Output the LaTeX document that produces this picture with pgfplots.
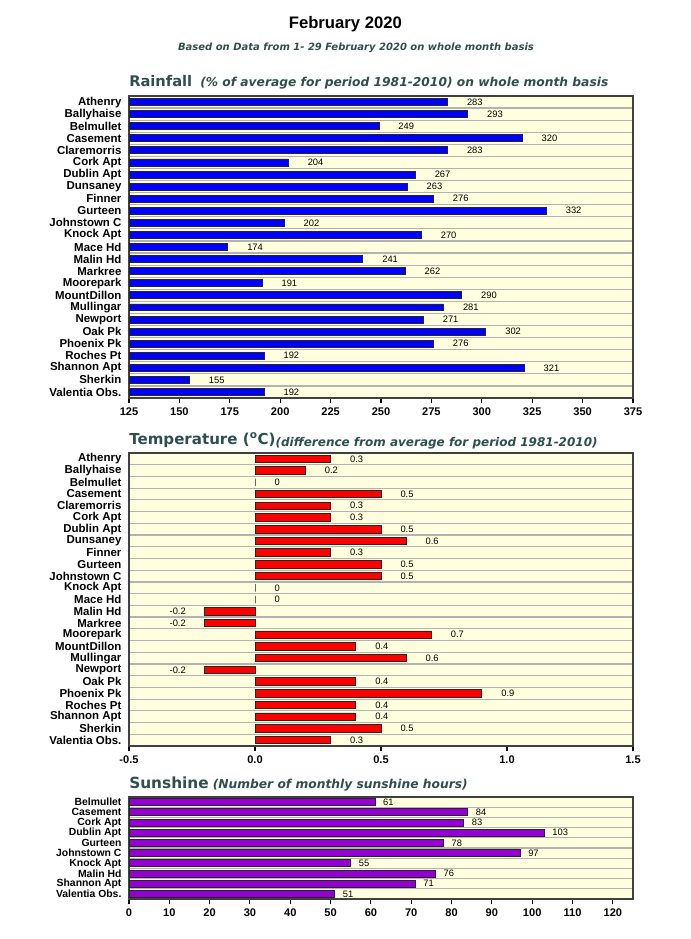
\documentclass[border=0pt]{standalone}
\usepackage{pgfplots}
\pgfplotsset{compat=1.18}
\usepackage{fontspec}
\setmainfont{Liberation Sans}
\newfontfamily\djv{DejaVu Sans}
\definecolor{bg}{HTML}{FFFFE0}
\definecolor{ttl}{HTML}{2F4F4F}
\definecolor{barblue}{HTML}{0000FF}
\definecolor{barred}{HTML}{FF0000}
\definecolor{barpurple}{HTML}{9400D3}
\pgfplotsset{
  rowchart/.style={
    xbar, bar shift=0pt,
    scale only axis,
    width=378pt,
    y dir=reverse,
    axis background/.style={fill=bg},
    axis line style={draw=black!75, line width=1.1pt},
    ytick style={draw=none},
    minor tick length=0pt,
    yminorgrids=true,
    minor grid style={draw=gray!60, line width=0.9pt},
    xtick pos=bottom, tick align=outside, major tick length=4pt,
    xtick style={draw=black, line width=0.8pt},
    /pgf/number format/assume math mode=true,
    yticklabel style={font=\fontsize{8.6}{8.6}\selectfont\bfseries, inner sep=1.5pt},
    xticklabel style={font=\fontsize{8.3}{8.3}\selectfont\bfseries},
    point meta=x,
    nodes near coords={\pgfmathprintnumber[assume math mode=true]{\pgfplotspointmeta}},
    clip=true,
  },
}
\begin{document}
\begin{tikzpicture}
\path[use as bounding box] (0,0) rectangle (518.25pt,-704.25pt);
% titles
\node[anchor=base, font=\fontsize{12.5}{12.5}\selectfont\bfseries] at (259pt,-21pt) {February 2020};
\node[anchor=base, text=ttl, font=\djv\fontsize{7.5}{7.5}\selectfont\bfseries\itshape] at (267pt,-37.5pt) {Based on Data from 1- 29 February 2020 on whole month basis};
\node[anchor=base west, text=ttl, inner sep=0pt] at (96.75pt,-65pt) {{\djv\fontsize{11}{11}\selectfont\bfseries Rainfall}\hspace{6pt}{\djv\fontsize{9.2}{9.2}\selectfont\itshape\bfseries (\% of average for period 1981-2010) on whole month basis}};
\node[anchor=base west, text=ttl, inner sep=0pt] at (96.75pt,-333pt) {{\djv\fontsize{11.3}{11.3}\selectfont\bfseries Temperature (\textsuperscript{o}C)}{\djv\fontsize{9}{9}\selectfont\itshape\bfseries\raisebox{-2pt}{(difference from average for period 1981-2010)}}};
\node[anchor=base west, text=ttl, inner sep=0pt] at (96.75pt,-591pt) {{\djv\fontsize{11.5}{11.5}\selectfont\bfseries Sunshine}\hspace{3pt}{\djv\fontsize{9.2}{9.2}\selectfont\itshape\bfseries (Number of monthly sunshine hours)}};

% Rainfall
\begin{axis}[rowchart,
  at={(96.75pt,-72pt)}, anchor=north west,
  height=226.5pt,
  xmin=125, xmax=375, xtick={125,150,...,375},
  ymin=-0.5, ymax=24.5,
  ytick={0,...,24},
  minor ytick={0.5,1.5,...,23.5},
  yticklabels={Athenry,Ballyhaise,Belmullet,Casement,Claremorris,Cork Apt,Dublin Apt,Dunsaney,Finner,Gurteen,Johnstown C,Knock Apt,Mace Hd,Malin Hd,Markree,Moorepark,MountDillon,Mullingar,Newport,Oak Pk,Phoenix Pk,Roches Pt,Shannon Apt,Sherkin,Valentia Obs.},
  bar width=5.2pt,
  nodes near coords style={font=\fontsize{7}{7}\selectfont, anchor=west, xshift=11pt},
]
\addplot[fill=barblue, draw=black!85, line width=0.6pt] coordinates {
(283,0) (293,1) (249,2) (320,3) (283,4) (204,5) (267,6) (263,7) (276,8) (332,9)
(202,10) (270,11) (174,12) (241,13) (262,14) (191,15) (290,16) (281,17) (271,18)
(302,19) (276,20) (192,21) (321,22) (155,23) (192,24)};
\end{axis}

% Temperature
\begin{axis}[rowchart,
  at={(96.75pt,-339.75pt)}, anchor=north west,
  height=219.75pt,
  xmin=-0.5, xmax=1.5, xtick={-0.5,0,0.5,1,1.5},
  xticklabel style={/pgf/number format/.cd, fixed, fixed zerofill, precision=1},
  ymin=-0.5, ymax=24.5,
  ytick={0,...,24},
  minor ytick={0.5,1.5,...,23.5},
  yticklabels={Athenry,Ballyhaise,Belmullet,Casement,Claremorris,Cork Apt,Dublin Apt,Dunsaney,Finner,Gurteen,Johnstown C,Knock Apt,Mace Hd,Malin Hd,Markree,Moorepark,MountDillon,Mullingar,Newport,Oak Pk,Phoenix Pk,Roches Pt,Shannon Apt,Sherkin,Valentia Obs.},
  bar width=5.6pt,
]
\addplot[fill=barred, draw=black!85, line width=0.6pt,
  nodes near coords style={font=\fontsize{7}{7}\selectfont, anchor=west, xshift=11pt}] coordinates {
(0.3,0) (0.2,1) (0,2) (0.5,3) (0.3,4) (0.3,5) (0.5,6) (0.6,7) (0.3,8) (0.5,9)
(0.5,10) (0,11) (0,12) (0.7,15) (0.4,16) (0.6,17) (0.4,19) (0.9,20) (0.4,21)
(0.4,22) (0.5,23) (0.3,24)};
\addplot[fill=barred, draw=black!85, line width=0.6pt,
  nodes near coords style={font=\fontsize{7}{7}\selectfont, anchor=east, xshift=-10.5pt}] coordinates {
(-0.2,13) (-0.2,14) (-0.2,18)};
\end{axis}

% Sunshine
\begin{axis}[rowchart,
  at={(96.75pt,-597.75pt)}, anchor=north west,
  height=76.5pt,
  xmin=0, xmax=125, xtick={0,10,...,120},
  ymin=-0.5, ymax=9.5,
  ytick={0,...,9},
  minor ytick={0.5,1.5,...,8.5},
  yticklabels={Belmullet,Casement,Cork Apt,Dublin Apt,Gurteen,Johnstown C,Knock Apt,Malin Hd,Shannon Apt,Valentia Obs.},
  yticklabel style={font=\fontsize{7.8}{7.8}\selectfont\bfseries, inner sep=1.5pt},
  bar width=5.2pt,
  nodes near coords style={font=\fontsize{7}{7}\selectfont, anchor=west, xshift=2.5pt},
]
\addplot[fill=barpurple, draw=black!85, line width=0.6pt] coordinates {
(61,0) (84,1) (83,2) (103,3) (78,4) (97,5) (55,6) (76,7) (71,8) (51,9)};
\end{axis}
\end{tikzpicture}
\end{document}
